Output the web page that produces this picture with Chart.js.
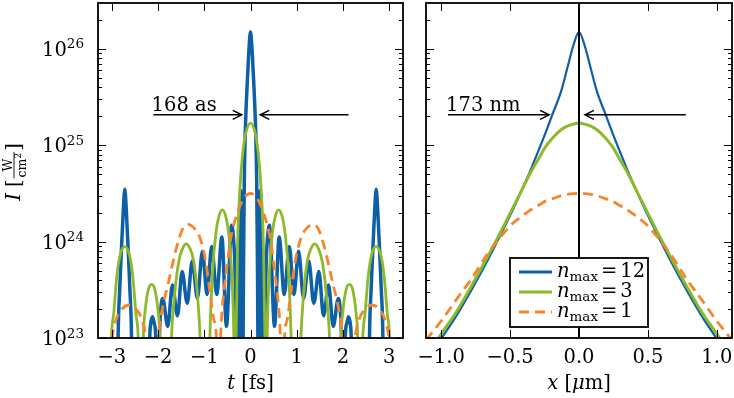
<!DOCTYPE html>
<html>
<head>
<meta charset="utf-8">
<script src="https://cdn.jsdelivr.net/npm/chart.js@4.4.0/dist/chart.umd.min.js"></script>
<style>
html, body { margin: 0; padding: 0; background: #fff; }
#wrap { position: relative; width: 734px; height: 398px; }
canvas { position: absolute; left: 0; top: 0; }
</style>
</head>
<body>
<div id="wrap">
  <canvas id="timeChart" width="734" height="398"></canvas>
  <canvas id="spaceChart" width="734" height="398"></canvas>
</div>
<script>
// intensity I [W/cm^2]

// left panel, t in fs
var tBlue = [-3.30, -2.885, -2.865, -2.83, -2.79, -2.755, -2.72, -2.685, -2.65, -2.61, -2.575, -2.555,
  -2.21, -2.18, -2.16, -2.12, -2.08, -2.05, -2.03,
  -2.00, -1.97, -1.94, -1.90, -1.79, -1.69, -1.58, -1.48, -1.37, -1.26, -1.15, -1.04, -0.94, -0.84, -0.73, -0.62, -0.52, -0.41, -0.37, -0.34, -0.30, -0.27,
  -0.262, -0.245, -0.225, -0.21, -0.195, -0.18, -0.167,
  -0.16, -0.15, -0.135, -0.115, -0.09, -0.06, -0.03, 0,
  0.03, 0.06, 0.09, 0.115, 0.135, 0.15, 0.16,
  0.167, 0.18, 0.195, 0.21, 0.225, 0.245, 0.262,
  0.27, 0.30, 0.34, 0.37, 0.41, 0.52, 0.62, 0.73, 0.84, 0.94, 1.04, 1.15, 1.26, 1.37, 1.48, 1.58, 1.69, 1.79, 1.90, 1.94, 1.97, 2.00,
  2.03, 2.05, 2.08, 2.12, 2.16, 2.18, 2.21,
  2.555, 2.575, 2.61, 2.65, 2.685, 2.72, 2.755, 2.79, 2.83, 2.865, 2.885, 3.30]
var iBlue = [1e22, 1e22, 1.0e23, 3.2e23, 8.9e23, 2.0e24, 3.5e24, 2.0e24, 8.9e23, 3.2e23, 1.0e23, 1e22,
  1e22, 1.0e23, 1.4e23, 1.66e23, 1.4e23, 1.0e23, 1e22,
  1e22, 1.0e23, 2.0e23, 2.57e23, 1.32e23, 3.55e23, 1.7e23, 4.9e23, 2.29e23, 6.31e23, 2.57e23, 7.94e23, 2.82e23, 8.91e23, 2.82e23, 1.12e24, 1.32e23, 1.48e24, 1.12e24, 6.3e23, 1.0e23, 1e22,
  1e22, 4.0e23, 2.2e24, 3.4e24, 2.2e24, 4.0e23, 1e22,
  1.0e23, 6.3e23, 4.0e24, 1.26e25, 2.8e25, 5.6e25, 1.05e26, 1.5e26,
  1.05e26, 5.6e25, 2.8e25, 1.26e25, 4.0e24, 6.3e23, 1.0e23,
  1e22, 4.0e23, 2.2e24, 3.4e24, 2.2e24, 4.0e23, 1e22,
  1e22, 1.0e23, 6.3e23, 1.12e24, 1.48e24, 1.32e23, 1.12e24, 2.82e23, 8.91e23, 2.82e23, 7.94e23, 2.57e23, 6.31e23, 2.29e23, 4.9e23, 1.7e23, 3.55e23, 1.32e23, 2.57e23, 2.0e23, 1.0e23, 1e22,
  1e22, 1.0e23, 1.4e23, 1.66e23, 1.4e23, 1.0e23, 1e22,
  1e22, 1.0e23, 3.2e23, 8.9e23, 2.0e24, 3.5e24, 2.0e24, 8.9e23, 3.2e23, 1.0e23, 1e22, 1e22]

var tGreen = [-3.30, -3.06, -3.01, -2.96, -2.89, -2.81, -2.72, -2.63, -2.55, -2.48, -2.43, -2.38,
  -2.36, -2.32, -2.28, -2.21, -2.14, -2.07, -2.00, -1.96, -1.92,
  -1.77, -1.71, -1.64, -1.55, -1.47, -1.39, -1.31, -1.23, -1.15, -1.09, -1.03,
  -0.92, -0.88, -0.82, -0.75, -0.68, -0.61, -0.54, -0.47, -0.41, -0.36, -0.335,
  -0.313, -0.28, -0.23, -0.165, -0.10, 0, 0.10, 0.165, 0.23, 0.28, 0.313,
  0.335, 0.36, 0.41, 0.47, 0.54, 0.61, 0.68, 0.75, 0.82, 0.88, 0.92,
  1.03, 1.09, 1.15, 1.23, 1.31, 1.39, 1.47, 1.55, 1.64, 1.71, 1.77,
  1.92, 1.96, 2.00, 2.07, 2.14, 2.21, 2.28, 2.32, 2.36,
  2.38, 2.43, 2.48, 2.55, 2.63, 2.72, 2.81, 2.89, 2.96, 3.01, 3.06, 3.30]
var iGreen = [1e22, 1e22, 1.0e23, 1.8e23, 4.5e23, 7.6e23, 8.9e23, 7.6e23, 4.5e23, 1.8e23, 1.0e23, 1e22,
  1e22, 1.0e23, 1.9e23, 3.2e23, 3.6e23, 3.2e23, 1.9e23, 1.0e23, 1e22,
  1e22, 1.0e23, 2.9e23, 6.3e23, 8.5e23, 9.5e23, 8.5e23, 6.3e23, 2.9e23, 1.0e23, 1e22,
  1e22, 1.0e23, 5.0e23, 1.2e24, 1.86e24, 2.14e24, 1.86e24, 1.2e24, 5.0e23, 1.0e23, 1e22,
  1.0e23, 9.1e23, 3.5e24, 8.5e24, 1.35e25, 1.7e25, 1.35e25, 8.5e24, 3.5e24, 9.1e23, 1.0e23,
  1e22, 1.0e23, 5.0e23, 1.2e24, 1.86e24, 2.14e24, 1.86e24, 1.2e24, 5.0e23, 1.0e23, 1e22,
  1e22, 1.0e23, 2.9e23, 6.3e23, 8.5e23, 9.5e23, 8.5e23, 6.3e23, 2.9e23, 1.0e23, 1e22,
  1e22, 1.0e23, 1.9e23, 3.2e23, 3.6e23, 3.2e23, 1.9e23, 1.0e23, 1e22,
  1e22, 1.0e23, 1.8e23, 4.5e23, 7.6e23, 8.9e23, 7.6e23, 4.5e23, 1.8e23, 1.0e23, 1e22, 1e22]

var tOrange = [-3.30, -3.12, -3.00, -2.90, -2.78, -2.63, -2.48, -2.36, -2.26, -2.15,
  -2.07, -1.99, -1.90, -1.78, -1.60, -1.47, -1.35, -1.22, -1.10, -0.97,
  -0.87, -0.80, -0.74, -0.69, -0.645, -0.62, -0.57, -0.50, -0.43, -0.28, -0.15, 0,
  0.15, 0.28, 0.43, 0.50, 0.57, 0.62, 0.645, 0.69, 0.74, 0.80, 0.87,
  0.97, 1.10, 1.22, 1.35, 1.47, 1.60, 1.78, 1.90, 1.99, 2.07,
  2.15, 2.26, 2.36, 2.48, 2.63, 2.78, 2.90, 3.00, 3.12, 3.30]
var iOrange = [1e22, 3e22, 1.0e23, 1.6e23, 2.0e23, 2.2e23, 2.0e23, 1.6e23, 1.0e23, 3e22,
  3e22, 1.1e23, 2.1e23, 3.7e23, 8.7e23, 1.35e24, 1.51e24, 1.38e24, 1.12e24, 6.3e23,
  2.8e23, 1.6e23, 1.07e23, 2e22, 1.07e23, 1.8e23, 3.2e23, 6.0e23, 1.07e24, 2.0e24, 2.8e24, 3.16e24,
  2.8e24, 2.0e24, 1.07e24, 6.0e23, 3.2e23, 1.8e23, 1.07e23, 2e22, 1.07e23, 1.6e23, 2.8e23,
  6.3e23, 1.12e24, 1.38e24, 1.51e24, 1.35e24, 8.7e23, 3.7e23, 2.1e23, 1.1e23, 3e22,
  3e22, 1.0e23, 1.6e23, 2.0e23, 2.2e23, 2.0e23, 1.6e23, 1.0e23, 3e22, 1e22]

// right panel, x in um
var xSpace = [-1.11, -1.0, -0.89, -0.78, -0.68, -0.58, -0.48, -0.41, -0.35, -0.29, -0.24, -0.19, -0.13, -0.085, -0.04, 0,
  0.04, 0.085, 0.13, 0.19, 0.24, 0.29, 0.35, 0.41, 0.48, 0.58, 0.68, 0.78, 0.89, 1.0, 1.11]
var blueSpace = [5.6e22, 9.8e22, 1.7e23, 3.16e23, 5.75e23, 1.1e24, 2.14e24, 3.55e24, 5.6e24, 9.1e24, 1.38e25, 2.14e25, 3.63e25, 6.3e25, 1.1e26, 1.5e26,
  1.1e26, 6.3e25, 3.63e25, 2.14e25, 1.38e25, 9.1e24, 5.6e24, 3.55e24, 2.14e24, 1.1e24, 5.75e23, 3.16e23, 1.7e23, 9.8e22, 5.6e22]
var greenSpace = [6.3e22, 1.1e23, 1.86e23, 3.47e23, 6.3e23, 1.17e24, 2.24e24, 3.55e24, 5.25e24, 7.4e24, 9.8e24, 1.2e25, 1.45e25, 1.58e25, 1.66e25, 1.7e25,
  1.66e25, 1.58e25, 1.45e25, 1.2e25, 9.8e24, 7.4e24, 5.25e24, 3.55e24, 2.24e24, 1.17e24, 6.3e23, 3.47e23, 1.86e23, 1.1e23, 6.3e22]
var orangeSpace = [9.5e22, 1.5e23, 2.5e23, 4.1e23, 6.9e23, 1.07e24, 1.55e24, 1.86e24, 2.14e24, 2.4e24, 2.65e24, 2.8e24, 3.0e24, 3.1e24, 3.15e24, 3.16e24,
  3.15e24, 3.1e24, 3.0e24, 2.8e24, 2.65e24, 2.4e24, 2.14e24, 1.86e24, 1.55e24, 1.07e24, 6.9e23, 4.1e23, 2.5e23, 1.5e23, 9.5e22]

var legendNames = ['12', '3', '1']
var ticksT = [-3, -2, -1, 0, 1, 2, 3]
var tickLabelsT = ['\u22123', '\u22122', '\u22121', '0', '1', '2', '3']
var ticksX = [-1, -0.5, 0, 0.5, 1]
var tickLabelsX = ['\u22121.0', '\u22120.5', '0.0', '0.5', '1.0']
var decades = [23, 24, 25, 26]

const BLUE = '#0d5fa6', GREEN = '#8cba2a', ORANGE = '#f7852d'
const FONT = '"DejaVu Serif", serif'
const R = '19.5px ' + FONT, IT = 'italic 19.5px ' + FONT, SM = '13.5px ' + FONT

function series(xs, ys, color, width, dash, order) {
    return {
        data: xs.map((v, i) => ({ x: v, y: ys[i] })),
        borderColor: color,
        borderWidth: width,
        borderDash: dash,
        borderJoinStyle: 'round',
        pointRadius: 0,
        cubicInterpolationMode: 'monotone',
        fill: false,
        clip: 0,
        order: order
    }
}

function runsWidth(ctx, runs) {
    let w = 0
    runs.forEach(r => { ctx.font = r.font; w += (r.gap || 0) + ctx.measureText(r.t).width })
    return w
}
function drawRuns(ctx, runs, x, y) {
    runs.forEach(r => {
        ctx.font = r.font
        x += (r.gap || 0)
        ctx.fillText(r.t, x, y + (r.dy || 0))
        x += ctx.measureText(r.t).width
    })
    return x
}

function arrow(ctx, x0, x1, y) {
    const d = x1 > x0 ? 1 : -1
    ctx.beginPath()
    ctx.moveTo(x0, y); ctx.lineTo(x1, y)
    ctx.moveTo(x1 - d * 9, y - 4.5); ctx.lineTo(x1, y); ctx.lineTo(x1 - d * 9, y + 4.5)
    ctx.stroke()
}

function panel(cfg) {
    return {
        id: 'panel',
        afterDatasetsDraw(chart) {
            const ctx = chart.ctx, a = chart.chartArea
            const xs = chart.scales.x, ys = chart.scales.y
            ctx.save()
            ctx.strokeStyle = '#000'
            ctx.fillStyle = '#000'
            ctx.textBaseline = 'alphabetic'
            ctx.textAlign = 'left'

            if (cfg.vline) {
                const px = xs.getPixelForValue(0)
                ctx.lineWidth = 2
                ctx.beginPath(); ctx.moveTo(px, a.top); ctx.lineTo(px, a.bottom); ctx.stroke()
            }

            // ticks pointing inwards on all four sides
            ctx.lineWidth = 1
            ctx.beginPath()
            decades.forEach(e => {
                for (let m = 1; m <= 9; m++) {
                    const v = m * Math.pow(10, e)
                    if (v > ys.max) break
                    const py = Math.round(ys.getPixelForValue(v)) + 0.5
                    const len = m === 1 ? 8 : 4
                    ctx.moveTo(a.left, py); ctx.lineTo(a.left + len, py)
                    ctx.moveTo(a.right, py); ctx.lineTo(a.right - len, py)
                }
            })
            cfg.ticks.forEach(v => {
                const px = Math.round(xs.getPixelForValue(v)) + 0.5
                ctx.moveTo(px, a.top); ctx.lineTo(px, a.top + 8)
                ctx.moveTo(px, a.bottom); ctx.lineTo(px, a.bottom - 8)
            })
            ctx.stroke()

            ctx.lineWidth = 1.8
            ctx.strokeRect(a.left, a.top, a.right - a.left, a.bottom - a.top)

            // x tick labels + title
            ctx.font = R
            ctx.textAlign = 'center'
            cfg.ticks.forEach((v, i) => ctx.fillText(cfg.labels[i], xs.getPixelForValue(v), a.bottom + 24.5))
            ctx.textAlign = 'left'
            const tw = runsWidth(ctx, cfg.title)
            drawRuns(ctx, cfg.title, (a.left + a.right) / 2 - tw / 2, 389)

            // y tick labels 10^n (left panel only)
            if (cfg.yLabels) {
                decades.forEach(e => {
                    const py = ys.getPixelForValue(Math.pow(10, e))
                    const runs = [{ t: '10', font: R }, { t: String(e), font: SM, dy: -7.5 }]
                    const w = runsWidth(ctx, runs)
                    drawRuns(ctx, runs, a.left - 14 - w, py + 7)
                })
                // y title  I [W/cm^2], rotated
                ctx.save()
                ctx.translate(20, 172)
                ctx.rotate(-Math.PI / 2)
                const FR = '12.5px ' + FONT
                ctx.font = FR
                const wW = ctx.measureText('W').width
                const wc = ctx.measureText('cm').width
                ctx.font = '9px ' + FONT
                const w2 = ctx.measureText('2').width
                const fw = Math.max(wW, wc + w2) + 2
                ctx.font = IT
                const wI = ctx.measureText('I').width
                ctx.font = R
                const wb = ctx.measureText('[').width
                const total = wI + 6 + wb + 1 + fw + 1 + wb
                let x = -total / 2
                ctx.font = IT; ctx.fillText('I', x, 0); x += wI + 6
                ctx.font = R; ctx.fillText('[', x, 0); x += wb + 1
                ctx.font = FR
                ctx.fillText('W', x + (fw - wW) / 2, -8.5)
                const cx = x + (fw - wc - w2) / 2
                ctx.fillText('cm', cx, 5.5)
                ctx.font = '9px ' + FONT
                ctx.fillText('2', cx + wc, 0.5)
                ctx.lineWidth = 0.9
                ctx.beginPath(); ctx.moveTo(x, -6); ctx.lineTo(x + fw, -6); ctx.stroke()
                x += fw + 1
                ctx.font = R; ctx.fillText(']', x, 0)
                ctx.restore()
            }

            // width annotation
            const ay = ys.getPixelForValue(cfg.note.y)
            ctx.lineWidth = 1.5
            arrow(ctx, xs.getPixelForValue(cfg.note.a1[0]), xs.getPixelForValue(cfg.note.a1[1]), ay)
            arrow(ctx, xs.getPixelForValue(cfg.note.a2[0]), xs.getPixelForValue(cfg.note.a2[1]), ay)
            ctx.font = R
            ctx.fillText(cfg.note.text, xs.getPixelForValue(cfg.note.tx), ay - 4)

            // legend
            if (cfg.legend) {
                const bx = a.left + 84, by = 258, bw = 138, bh = 69
                ctx.fillStyle = '#fff'
                ctx.fillRect(bx, by, bw, bh)
                ctx.lineWidth = 1.8
                ctx.strokeStyle = '#000'
                ctx.strokeRect(bx, by, bw, bh)
                const cols = [BLUE, GREEN, ORANGE]
                const dashes = [[], [], [10, 6]]
                legendNames.forEach((nm, i) => {
                    const ry = by + 14 + i * 20
                    ctx.save()
                    ctx.strokeStyle = cols[i]
                    ctx.lineWidth = 3
                    ctx.setLineDash(dashes[i])
                    ctx.beginPath(); ctx.moveTo(bx + 9, ry); ctx.lineTo(bx + 42, ry); ctx.stroke()
                    ctx.restore()
                    ctx.fillStyle = '#000'
                    drawRuns(ctx, [{ t: 'n', font: IT }, { t: 'max', font: SM, dy: 4 },
                        { t: '=', font: R, gap: 3 }, { t: nm, font: R, gap: 3 }], bx + 47, ry + 5)
                })
            }
            ctx.restore()
        }
    }
}

function makeChart(id, pad, xr, datasets, cfg) {
    return new Chart(document.getElementById(id), {
        type: 'line',
        data: { datasets: datasets },
        options: {
            responsive: false,
            animation: false,
            events: [],
            layout: { padding: pad },
            plugins: { legend: { display: false }, tooltip: { enabled: false } },
            scales: {
                x: { type: 'linear', min: -xr, max: xr, display: false },
                y: { type: 'logarithmic', min: 1e23, max: 3e26, display: false }
            }
        },
        plugins: [panel(cfg)]
    })
}

makeChart('timeChart', { left: 98, right: 331, top: 3, bottom: 60 }, 3.3, [
    series(tBlue, iBlue, BLUE, 3.5, [], 3),
    series(tGreen, iGreen, GREEN, 2.8, [], 2),
    series(tOrange, iOrange, ORANGE, 2.8, [10, 6], 1)
], {
    ticks: ticksT, labels: tickLabelsT, yLabels: true,
    title: [{ t: 't', font: IT }, { t: ' [fs]', font: R }],
    note: { y: 2.07e25, a1: [-2.10, -0.19], a2: [2.12, 0.21], tx: -2.14, text: '168 as' }
})

makeChart('spaceChart', { left: 426, right: 2, top: 3, bottom: 60 }, 1.11, [
    series(xSpace, blueSpace, BLUE, 2.2, [], 3),
    series(xSpace, greenSpace, GREEN, 3, [], 2),
    series(xSpace, orangeSpace, ORANGE, 2.8, [10, 6], 1)
], {
    ticks: ticksX, labels: tickLabelsX, vline: true, legend: true,
    title: [{ t: 'x', font: IT }, { t: ' [', font: R }, { t: '\u03bc', font: IT }, { t: 'm]', font: R }],
    note: { y: 2.07e25, a1: [-0.95, -0.217], a2: [0.775, 0.043], tx: -0.964, text: '173 nm' }
})
</script>
</body>
</html>
